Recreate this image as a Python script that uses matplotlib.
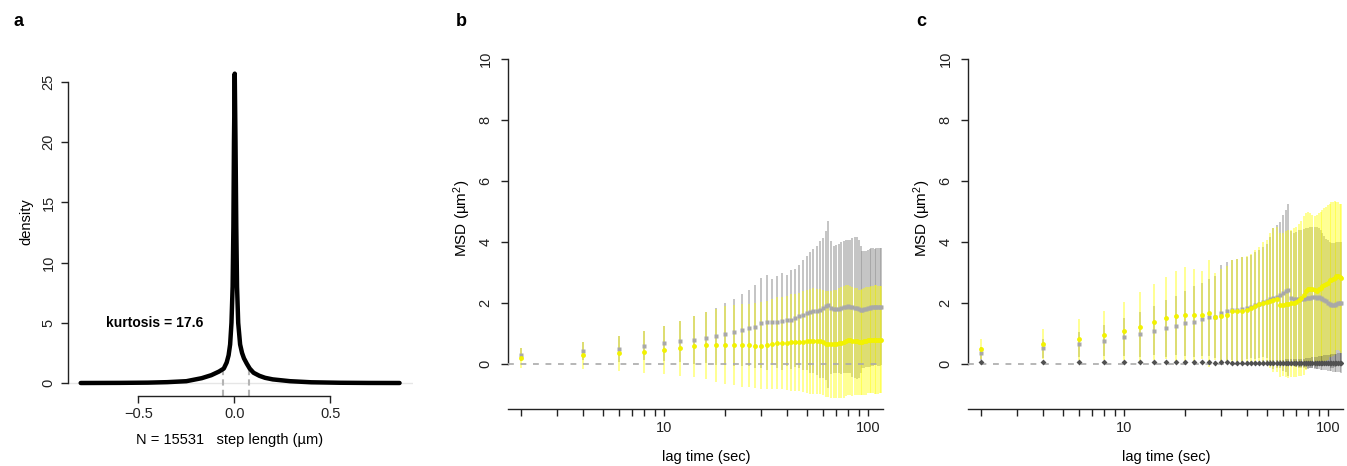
import numpy as np
import matplotlib
matplotlib.use("Agg")
import matplotlib.pyplot as plt
from matplotlib.ticker import NullLocator

plt.rcParams['font.family'] = ['Liberation Sans', 'DejaVu Sans']
plt.rcParams['mathtext.fontset'] = 'custom'
plt.rcParams['mathtext.rm'] = 'Liberation Sans'
plt.rcParams['mathtext.it'] = 'Liberation Sans:italic'

# ---- panel a: step length density ----
step_x = [-0.80, -0.60, -0.45, -0.35, -0.25, -0.17, -0.12, -0.08, -0.055, -0.04,
          -0.030, -0.022, -0.015, -0.009, -0.005, -0.002, 0.002, 0.006, 0.010, 0.014,
          0.020, 0.030, 0.040, 0.050, 0.065, 0.080, 0.10, 0.13, 0.16, 0.20,
          0.29, 0.40, 0.55, 0.70, 0.86]
step_density = [0.0, 0.01, 0.03, 0.07, 0.15, 0.40, 0.65, 0.95, 1.2, 1.7,
                2.3, 3.2, 5.0, 8.0, 13.0, 20.0, 25.7, 20.0, 13.0, 8.0,
                5.0, 3.2, 2.5, 2.05, 1.6, 1.2, 0.85, 0.60, 0.43, 0.30,
                0.15, 0.06, 0.02, 0.005, 0.0]
quantile_x = [-0.057, 0.078]
quantile_y = [1.3, 1.3]
kurtosis = 17.6
n_steps = 15531

# ---- panels b, c: MSD vs lag time ----
lag = list(range(2, 117, 2))

b_gray_mean = [0.31, 0.42, 0.50, 0.60, 0.68, 0.74, 0.79, 0.86, 0.91, 0.99,
               1.04, 1.13, 1.18, 1.23, 1.34, 1.37, 1.38, 1.39, 1.41, 1.43,
               1.45, 1.51, 1.56, 1.62, 1.67, 1.69, 1.73, 1.75, 1.78, 1.84,
               1.91, 1.95, 1.84, 1.80, 1.80, 1.82, 1.83, 1.87, 1.88, 1.89,
               1.88, 1.86, 1.85, 1.83, 1.80, 1.78, 1.78, 1.79, 1.81, 1.83,
               1.84, 1.86, 1.87, 1.88, 1.88, 1.87, 1.88, 1.88]
b_gray_sd = [0.21, 0.30, 0.43, 0.48, 0.58, 0.67, 0.78, 0.84, 0.93, 1.01,
             1.10, 1.18, 1.26, 1.36, 1.48, 1.56, 1.41, 1.51, 1.59, 1.50,
             1.62, 1.60, 1.70, 1.80, 1.86, 1.97, 2.04, 2.11, 2.24, 2.29,
             2.44, 2.75, 2.18, 2.08, 2.11, 2.13, 2.17, 2.15, 2.17, 2.19,
             2.17, 2.27, 2.30, 2.33, 2.25, 2.08, 1.92, 1.91, 1.91, 1.92,
             1.94, 1.94, 1.93, 1.90, 1.92, 1.93, 1.94, 1.92]
b_yellow_mean = [0.20, 0.28, 0.35, 0.40, 0.46, 0.51, 0.58, 0.61, 0.61, 0.63,
                 0.63, 0.61, 0.61, 0.60, 0.60, 0.63, 0.65, 0.69, 0.69, 0.69,
                 0.71, 0.71, 0.72, 0.73, 0.74, 0.75, 0.76, 0.75, 0.74, 0.71,
                 0.66, 0.65, 0.65, 0.66, 0.66, 0.68, 0.70, 0.71, 0.76, 0.80,
                 0.78, 0.74, 0.74, 0.74, 0.72, 0.71, 0.73, 0.74, 0.76, 0.78,
                 0.80, 0.80, 0.80, 0.80, 0.80, 0.79, 0.80, 0.80]
b_yellow_sd = [0.32, 0.44, 0.58, 0.69, 0.80, 0.90, 1.00, 1.10, 1.20, 1.27,
               1.32, 1.35, 1.37, 1.40, 1.42, 1.45, 1.48, 1.50, 1.52, 1.55,
               1.58, 1.60, 1.62, 1.65, 1.70, 1.72, 1.73, 1.72, 1.72, 1.72,
               1.73, 1.74, 1.75, 1.76, 1.78, 1.80, 1.82, 1.84, 1.82, 1.80,
               1.79, 1.78, 1.76, 1.74, 1.72, 1.72, 1.74, 1.76, 1.76, 1.74,
               1.74, 1.75, 1.76, 1.78, 1.78, 1.77, 1.76, 1.76]

c_gray_mean = [0.35, 0.51, 0.64, 0.77, 0.89, 0.98, 1.09, 1.17, 1.26, 1.33,
               1.39, 1.46, 1.53, 1.55, 1.68, 1.74, 1.77, 1.77, 1.79, 1.84,
               1.88, 1.93, 1.97, 2.04, 2.08, 2.12, 2.15, 2.21, 2.26, 2.34,
               2.40, 2.43, 2.15, 2.13, 2.12, 2.13, 2.14, 2.14, 2.15, 2.15,
               2.17, 2.19, 2.19, 2.16, 2.19, 2.17, 2.14, 2.10, 2.06, 2.01,
               1.96, 1.93, 1.92, 1.94, 1.97, 1.99, 2.01, 2.00]
c_gray_sd = [0.22, 0.30, 0.42, 0.51, 0.63, 0.74, 0.81, 0.93, 0.97, 1.07,
             1.17, 1.19, 1.27, 1.35, 1.57, 1.62, 1.64, 1.67, 1.71, 1.68,
             1.69, 1.75, 1.77, 1.81, 1.87, 2.03, 2.30, 2.34, 2.39, 2.56,
             2.65, 2.82, 2.20, 2.17, 2.22, 2.25, 2.26, 2.28, 2.30, 2.30,
             2.31, 2.31, 2.31, 2.32, 2.26, 2.23, 2.16, 2.10, 2.04, 2.04,
             2.04, 2.05, 2.06, 2.04, 2.03, 2.01, 1.99, 2.00]
c_yellow_mean = [0.48, 0.66, 0.81, 0.94, 1.08, 1.22, 1.38, 1.51, 1.57, 1.62,
                 1.62, 1.61, 1.66, 1.55, 1.57, 1.61, 1.74, 1.75, 1.75, 1.77,
                 1.83, 1.90, 1.97, 2.01, 2.04, 2.08, 2.10, 2.12, 1.93, 1.95,
                 1.96, 1.97, 1.99, 2.01, 2.04, 2.10, 2.15, 2.25, 2.38, 2.45,
                 2.46, 2.45, 2.42, 2.41, 2.46, 2.50, 2.55, 2.58, 2.62, 2.67,
                 2.74, 2.77, 2.78, 2.82, 2.88, 2.88, 2.84, 2.81]
c_yellow_sd = [0.33, 0.49, 0.68, 0.80, 0.96, 1.13, 1.25, 1.35, 1.49, 1.55,
               1.51, 1.45, 1.75, 1.42, 1.53, 1.60, 1.68, 1.70, 1.75, 1.78,
               1.77, 1.85, 1.88, 2.00, 2.03, 2.20, 2.35, 2.38, 2.37, 2.35,
               2.39, 2.43, 2.41, 2.44, 2.46, 2.50, 2.55, 2.60, 2.57, 2.52,
               2.49, 2.45, 2.43, 2.49, 2.49, 2.50, 2.50, 2.52, 2.53, 2.53,
               2.51, 2.53, 2.52, 2.53, 2.42, 2.42, 2.41, 2.44]
c_black_mean = [0.05, 0.06, 0.05, 0.05, 0.06, 0.05, 0.06, 0.06, 0.05, 0.05,
                0.05, 0.05, 0.05, 0.04, 0.05, 0.05, 0.04, 0.04, 0.04, 0.04,
                0.04, 0.04, 0.04, 0.04, 0.04, 0.04, 0.04, 0.04, 0.04, 0.04,
                0.04, 0.04, 0.04, 0.04, 0.04, 0.04, 0.04, 0.04, 0.04, 0.04,
                0.04, 0.04, 0.04, 0.04, 0.04, 0.04, 0.04, 0.04, 0.04, 0.04,
                0.04, 0.04, 0.04, 0.04, 0.04, 0.04, 0.04, 0.04]
c_black_sd = [0.04, 0.04, 0.04, 0.05, 0.05, 0.05, 0.05, 0.05, 0.05, 0.05,
              0.05, 0.05, 0.05, 0.05, 0.06, 0.06, 0.06, 0.06, 0.06, 0.07,
              0.07, 0.07, 0.07, 0.08, 0.08, 0.08, 0.09, 0.09, 0.10, 0.10,
              0.11, 0.11, 0.12, 0.12, 0.13, 0.13, 0.14, 0.14, 0.15, 0.16,
              0.17, 0.18, 0.19, 0.20, 0.21, 0.22, 0.23, 0.24, 0.25, 0.26,
              0.27, 0.28, 0.29, 0.30, 0.30, 0.31, 0.31, 0.32]

lag_ticks = [2, 3, 4, 5, 6, 7, 8, 9, 10, 20, 30, 40, 50, 60, 70, 80, 90, 100]
lag_labels = ['' if t not in (10, 100) else str(t) for t in lag_ticks]

GRAY_BAR = (0.55, 0.55, 0.55, 0.6)
GRAY_PT = '#a8a8a8'
YEL_BAR = (1.0, 1.0, 0.0, 0.5)
YEL_PT = '#f2f200'
BLK_BAR = (0.2, 0.2, 0.2, 0.3)
BLK_PT = '#505050'

FS = 10.5
W, H = 1347, 466
fig = plt.figure(figsize=(W / 100, H / 100), dpi=100)


def px_axes(left, top, right, bottom):
    return fig.add_axes([left / W, 1 - bottom / H, (right - left) / W, (bottom - top) / H])


def r_style(ax):
    for s in ['top', 'right']:
        ax.spines[s].set_visible(False)
    for s in ['left', 'bottom']:
        ax.spines[s].set_linewidth(1.0)
        ax.spines[s].set_color('#222222')
    ax.tick_params(length=5, width=1.0, color='#222222', labelsize=FS, labelcolor='#222222')
    ax.patch.set_alpha(0)


# ---------- a ----------
ax = px_axes(68, 61, 413, 396)
r_style(ax)
ax.set_xlim(-0.866, 0.93)
ax.set_ylim(-1.08, 26.75)
ax.axhline(0, color='#e6e6e6', lw=1.0, zorder=1)
ax.vlines(quantile_x, -1.08, quantile_y, colors='#b4b4b4', linestyles=(0, (3, 2)), lw=1.5, zorder=2)
ax.plot(step_x, step_density, color='black', lw=3.2, solid_joinstyle='round',
        solid_capstyle='round', zorder=3)
ax.spines['left'].set_bounds(0, 25)
ax.spines['bottom'].set_bounds(-0.5, 0.5)
ax.set_xticks([-0.5, 0.0, 0.5])
ax.set_xticklabels(['\u22120.5', '0.0', '0.5'])
ax.set_yticks([0, 5, 10, 15, 20, 25])
ax.tick_params(axis='x', pad=3)
ax.tick_params(axis='y', pad=4)
for lab in ax.get_yticklabels():
    lab.set_rotation(90)
    lab.set_va('center')
ax.text(-0.417, 5.0, 'kurtosis = %.1f' % kurtosis, ha='center', va='center',
        fontsize=10, fontweight='bold')
fig.text(26 / W, 1 - 222 / H, 'density', rotation=90, ha='center', va='center', fontsize=FS)
fig.text(230 / W, 1 - 440 / H, 'N = %d   step length (\u00b5m)' % n_steps,
         ha='center', va='center', fontsize=FS)
fig.text(18 / W, 1 - 22 / H, 'a', ha='center', va='center', fontsize=13, fontweight='bold')


# ---------- b, c ----------
def msd_panel(left, series, letter):
    ax = px_axes(left, 45.3, left + 374.6, 409)
    r_style(ax)
    ax.set_xscale('log')
    ax.set_xlim(1.719, 118)
    ax.set_ylim(-1.475, 10.45)
    for mean, sd, bar_col, pt_col, mk, ms in series:
        m = np.array(mean)
        s = np.array(sd)
        ax.vlines(lag, m - s, m + s, colors=[bar_col], lw=1.2, zorder=2)
    for mean, sd, bar_col, pt_col, mk, ms in series:
        ax.plot(lag, mean, ls='none', marker=mk, ms=ms, color=pt_col, mec='none', zorder=4)
    ax.axhline(0, color='#aaaaaa', lw=1.2, ls=(0, (3.5, 4)), zorder=3)
    ax.spines['left'].set_bounds(0, 10)
    ax.set_yticks([0, 2, 4, 6, 8, 10])
    ax.set_xticks(lag_ticks)
    ax.set_xticklabels(lag_labels)
    ax.xaxis.set_minor_locator(NullLocator())
    ax.tick_params(axis='x', pad=4)
    ax.tick_params(axis='y', pad=6)
    for lab in ax.get_yticklabels():
        lab.set_rotation(90)
        lab.set_va('center')
    fig.text((left - 46) / W, 1 - 218 / H, 'MSD (\u00b5m$^2$)', rotation=90,
             ha='center', va='center', fontsize=FS + 0.5)
    fig.text((left + 198) / W, 1 - 457 / H, 'lag time (sec)', ha='center', va='center',
             fontsize=FS)
    fig.text((left - 47) / W, 1 - 22 / H, letter, ha='center', va='center',
             fontsize=13, fontweight='bold')
    return ax


msd_panel(508, [
    (b_gray_mean, b_gray_sd, GRAY_BAR, GRAY_PT, 's', 3.0),
    (b_yellow_mean, b_yellow_sd, YEL_BAR, YEL_PT, 'o', 3.5),
], 'b')

msd_panel(968, [
    (c_gray_mean, c_gray_sd, GRAY_BAR, GRAY_PT, 's', 3.0),
    (c_yellow_mean, c_yellow_sd, YEL_BAR, YEL_PT, 'o', 3.5),
    (c_black_mean, c_black_sd, BLK_BAR, BLK_PT, 'D', 3.0),
], 'c')

fig.savefig('out.png', dpi=100)
